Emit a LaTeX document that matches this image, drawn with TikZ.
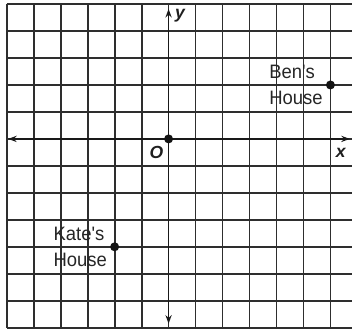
\documentclass[tikz,border=0pt]{standalone}
\usepackage{fontspec}
\setmainfont{Liberation Sans}
\newfontfamily\housefont[FakeStretch=0.95]{Liberation Sans}
\usetikzlibrary{arrows.meta,positioning}

\begin{document}
\begin{tikzpicture}[
    gridline/.style={draw=black!82, line width=1.9pt},
    axisline/.style={draw=black!90, line width=1.9pt,
                {Stealth[length=9pt,width=6.5pt]}-{Stealth[length=9pt,width=6.5pt]}},
    housedot/.style={circle, fill=black!92, inner sep=0pt, minimum size=9.5pt},
    houselabel/.style={font=\housefont\fontsize{20.5}{27.5}\selectfont, text=black!85,
                align=left, inner sep=0pt},
    axislabel/.style={font=\fontsize{18.5}{20}\selectfont\bfseries\itshape,
                text=black!88, inner sep=0pt},
]
\useasboundingbox (-6.25,-7.02) rectangle (6.8,5.15);

% grid
\draw[gridline] (-6,-7) grid (6.8,5);

% axes
\coordinate (xl) at (-5.95,0);
\coordinate (xr) at (6.72,0);
\coordinate (yb) at (0,-6.85);
\coordinate (yt) at (0,4.82);
\draw[axisline] (xl) -- (xr);
\draw[axisline] (yb) -- (yt);

\node[housedot] (origin) at (0,0) {};
\node[axislabel] (olab) at (-0.45,-0.52) {O};
\node[axislabel] (xlab) at (6.38,-0.52) {x};
\node[axislabel] (ylab) at (0.42,4.55) {y};

% houses
\node[housedot] (ben) at (6,2) {};
\node[houselabel, left=3pt of ben] (benlab) {Ben's\\House};

\node[housedot] (kate) at (-2,-4) {};
\node[houselabel, left=3pt of kate] (katelab) {Kate's\\House};

\end{tikzpicture}
\end{document}
